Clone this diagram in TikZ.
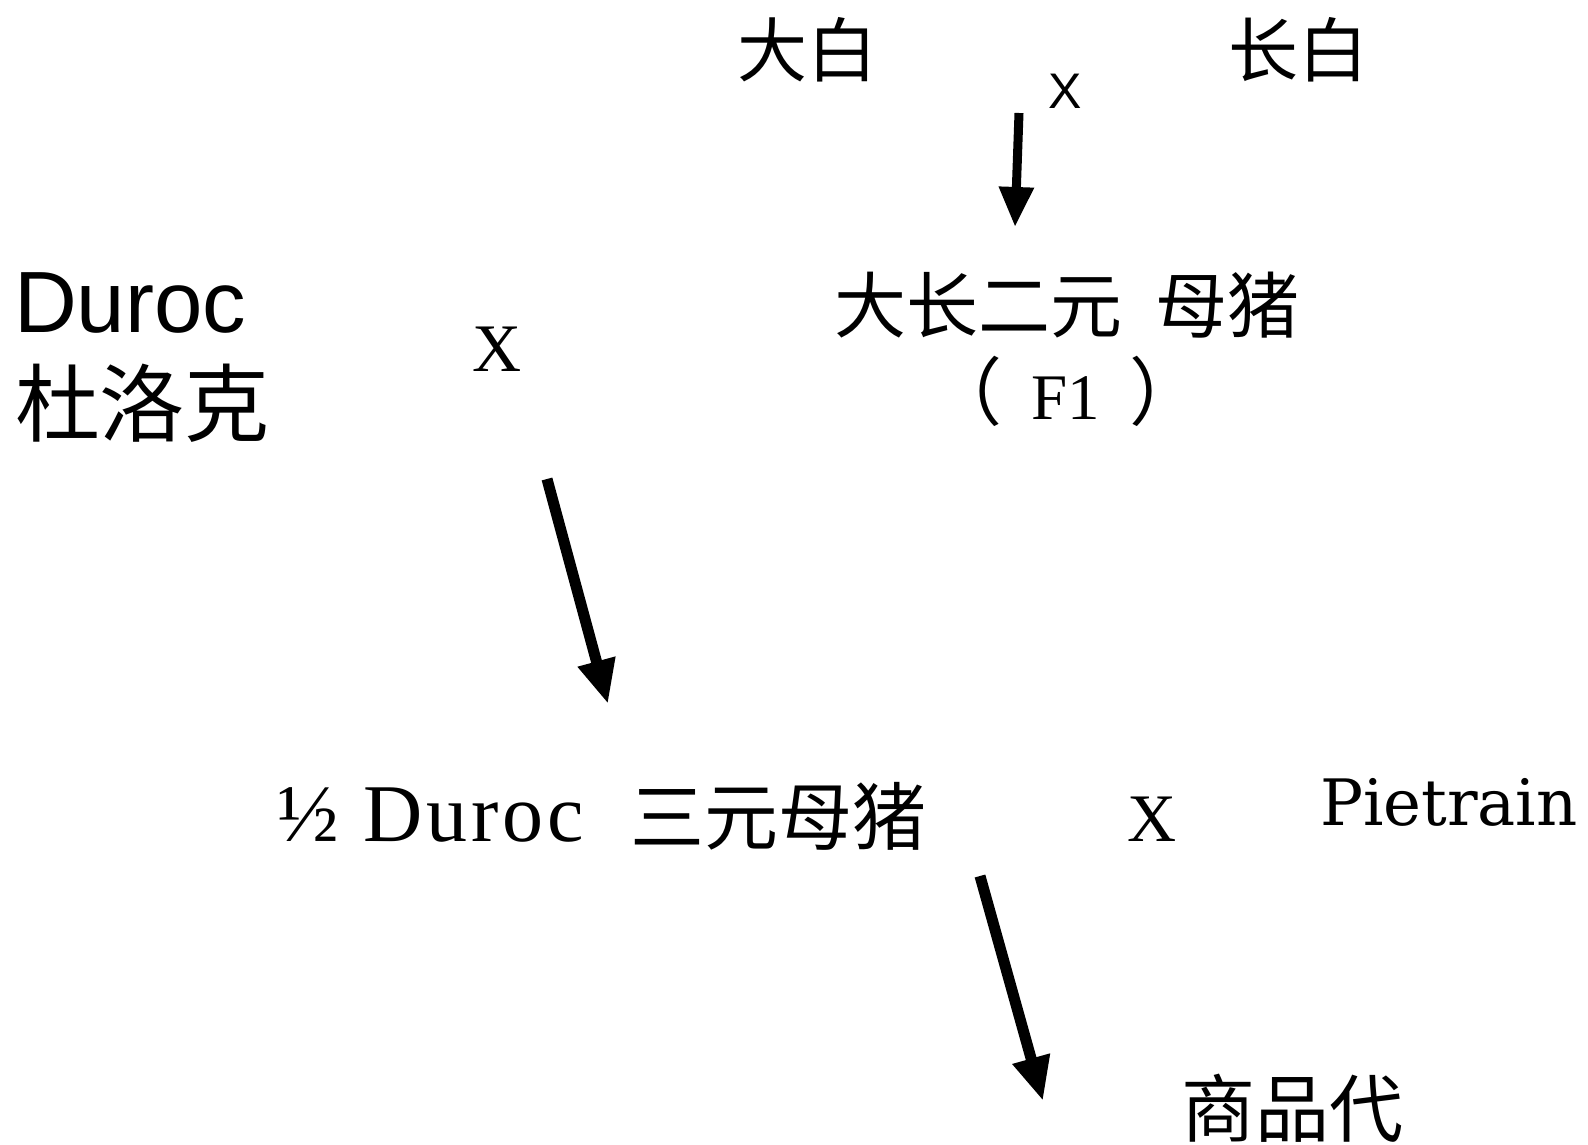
\documentclass[tikz,border=0pt]{standalone}
\usepackage{fontspec}
\setmainfont{Liberation Serif}
\newfontfamily\cjk{Noto Sans CJK SC}
\newfontfamily\arialf{Liberation Sans}
\newfontfamily\dvs{DejaVu Serif}
\usetikzlibrary{arrows.meta}
\newcommand\setfs[1]{\fontsize{#1}{#1}\selectfont}
\begin{document}
\begin{tikzpicture}[x=1pt,y=-1pt,
  every node/.style={inner sep=0pt,outer sep=0pt},
  arr/.style={line width=11pt,-{Triangle[length=44pt,width=36pt]}},
  arrthin/.style={line width=9pt,-{Triangle[length=40pt,width=33pt]}}]
\useasboundingbox[fill=white] (0,0) rectangle (1588,1145);
% top row
\node[anchor=base] (dabai) at (807,77) {\cjk\setfs{70}大白};
\node[anchor=base] (changbai) at (1298,77) {\cjk\setfs{70}长白};
\node[anchor=base] (x1) at (1065,109) {\arialf\setfs{50}X};
% F1
\node[anchor=base] (f1a) at (1067,332) {\cjk\setfs{72}大长二元\hspace{0.45em}母猪};
\node[anchor=base] (f1b) at (1066,419) {\cjk\setfs{74}（\hspace{0.4em}{\rmfamily\setfs{65}F1}\hspace{0.4em}）};
% Duroc
\node[anchor=base west] (duroc) at (14,332) {\arialf\setfs{87}Duroc};
\node[anchor=base west] (duluoke) at (15,435) {\cjk\setfs{85}杜洛克};
\node[anchor=base] (x2) at (497,371) {\setfs{68}X};
% three-way sow
\node[anchor=base west] (half) at (277,841) {\addfontfeature{LetterSpace=5}\setfs{82}½ Duroc};
\node[anchor=base west] (sanyuan) at (630,844) {\cjk\setfs{74}三元母猪};
\node[anchor=base] (x3) at (1152,841) {\setfs{68}X};
\node[anchor=base west] (pietrain) at (1320,825) {\dvs\setfs{64}Pietrain};
% commercial
\node[anchor=base west] (shangpin) at (1181,1136) {\cjk\setfs{74}商品代};
% arrows
\coordinate (a1s) at (1019,113);
\coordinate (a1e) at (1015,227);
\coordinate (a2s) at (547,479);
\coordinate (a2e) at (608,704);
\coordinate (a3s) at (980,876);
\coordinate (a3e) at (1043,1101);
\draw[arrthin] (a1s) -- (a1e);
\draw[arr] (a2s) -- (a2e);
\draw[arr] (a3s) -- (a3e);
\end{tikzpicture}
\end{document}
